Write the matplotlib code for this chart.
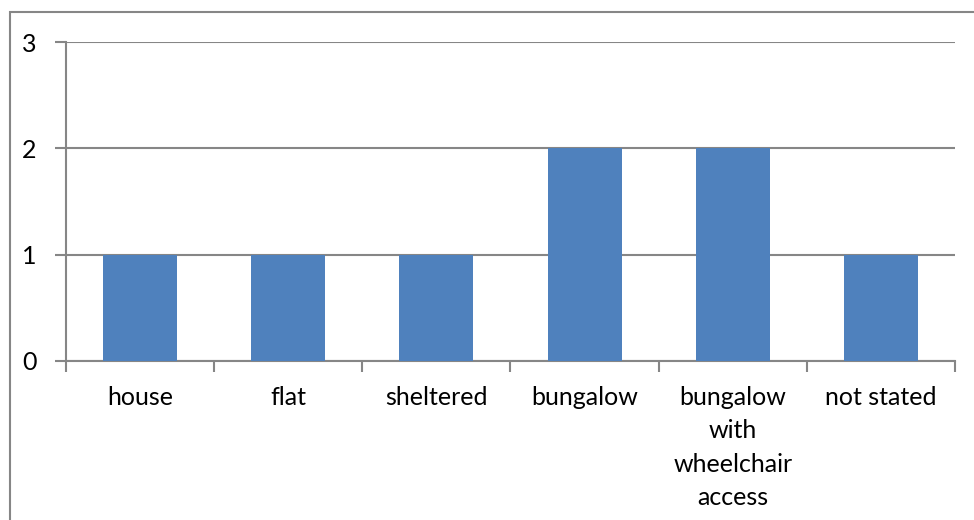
import matplotlib
matplotlib.use("Agg")
import matplotlib.pyplot as plt
from matplotlib.patches import Rectangle

categories = ["house", "flat", "sheltered", "bungalow", "bungalow\nwith\nwheelchair\naccess", "not stated"]
counts = [1, 1, 1, 2, 2, 1]
y_ticks = [0, 1, 2, 3]

plt.rcParams["font.family"] = ["Lato", "DejaVu Sans"]

W, H = 974, 520
fig = plt.figure(figsize=(W / 100, H / 100), dpi=100)

# outer chart-area border (cropped at right and bottom)
fig.patches.append(Rectangle((10 / W, -0.1), 2.0, (H - 12) / H + 0.1, transform=fig.transFigure,
                             fill=False, edgecolor="#868686", linewidth=1.5))

ax = fig.add_axes([66 / W, (H - 361) / H, (955 - 66) / W, (361 - 42) / H])

x = range(len(categories))
ax.bar(x, counts, width=0.5, color="#4F81BD", zorder=3)

ax.set_xlim(-0.5, len(categories) - 0.5)
ax.set_ylim(0, 3)
ax.set_yticks(y_ticks)
ax.set_yticklabels([str(t) for t in y_ticks], fontsize=18)
ax.yaxis.grid(True, color="#868686", linewidth=1.5, zorder=0)

ax.set_xticks([i + 0.5 for i in range(-1, len(categories))])
ax.set_xticklabels([])
ax.tick_params(axis="x", direction="out", length=8, width=1.5, color="#868686")
ax.tick_params(axis="y", direction="out", length=8, width=1.5, color="#868686", pad=13)

for i, name in enumerate(categories):
    ax.text(i, -0.235, name, ha="center", va="top", fontsize=18, linespacing=1.55)

for side in ["top", "right"]:
    ax.spines[side].set_visible(False)
for side in ["left", "bottom"]:
    ax.spines[side].set_color("#868686")
    ax.spines[side].set_linewidth(1.5)

fig.savefig("out.png", dpi=100)
